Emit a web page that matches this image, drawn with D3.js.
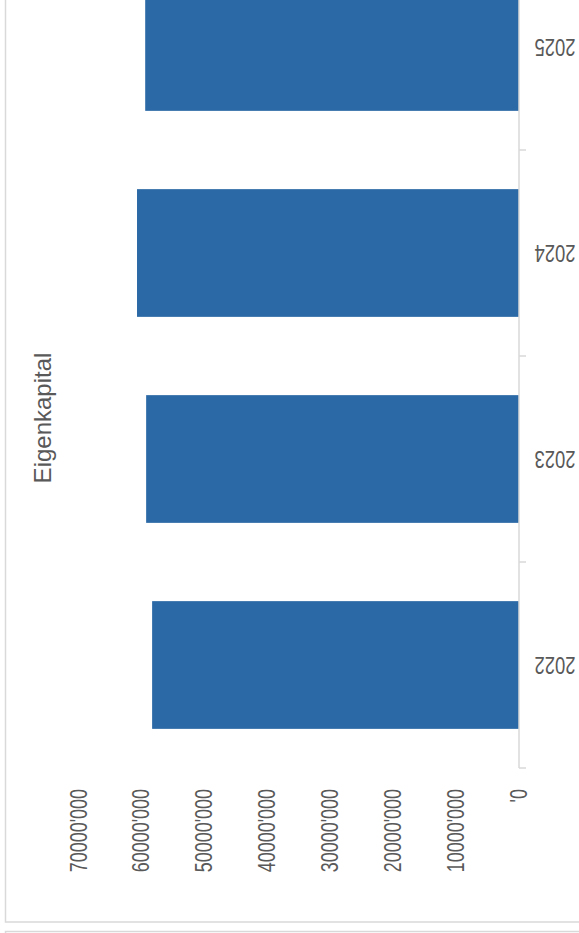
<!DOCTYPE html>
<html>
<head>
<meta charset="utf-8">
<script src="https://cdn.jsdelivr.net/npm/d3@7"></script>
<style>
  html, body { margin: 0; padding: 0; background: #fff; }
  svg { display: block; font-family: "Liberation Sans", Arial, sans-serif; }
</style>
</head>
<body>
<div id="output"></div>
<script>
(function () {

"use strict";

var title = "Eigenkapital"
var years = [ "2022", "2023", "2024", "2025" ]
var equity = [ 58300000, 59250000, 60700000, 59400000 ]
var valueTicks = [ 0, 10000000, 20000000, 30000000, 40000000, 50000000, 60000000, 70000000 ]

var width = 579
  , height = 933
  , textColor = "#595959"
  , lineColor = "#d9d9d9"
  , barColor = "#2a69a5"

// swiss style label, e.g. 70000'000 and '0
function fmt(d)
{
  var rest = ("00" + (d % 1000)).slice(-3)
  return d === 0 ? "'0" : Math.floor(d / 1000) + "'" + rest
}

var svg = d3.select("#output").append("svg").attr("width", width).attr("height", height)

// chart frame plus the edge of the next one below it
svg.append("rect")
  .attr("x", 5.5).attr("y", -10)
  .attr("width", 590).attr("height", 932)
  .style("fill", "none").style("stroke", lineColor).style("stroke-width", 1.5)
svg.append("path")
  .attr("d", "M5.5,940V931.5H590")
  .style("fill", "none").style("stroke", lineColor).style("stroke-width", 1.5)

// the chart is turned a quarter to the left: values run right to left
var x = d3.scaleLinear().domain([0, 70000000]).range([519, 78.5])
var y = d3.scaleBand().domain(years).range([768, -56]).paddingInner(0.38).paddingOuter(0.19)

svg.append("g").selectAll("rect")
  .data(years)
  .enter().append("rect")
  .attr("x", function (d, i) { return x(equity[i]) })
  .attr("y", function (d) { return y(d) })
  .attr("width", function (d, i) { return x(0) - x(equity[i]) })
  .attr("height", y.bandwidth())
  .style("fill", barColor)

// category axis (right side)
var catAxis = svg.append("g")
catAxis.append("line")
  .attr("x1", x(0)).attr("x2", x(0))
  .attr("y1", -60).attr("y2", y.range()[0])
  .style("stroke", lineColor).style("stroke-width", 1.5)

var bounds = years.map(function (d) { return y(d) - y.step() * y.paddingInner() / 2 })
bounds.push(y.range()[0])
catAxis.selectAll("line.tick")
  .data(bounds)
  .enter().append("line")
  .attr("class", "tick")
  .attr("x1", x(0)).attr("x2", x(0) + 7)
  .attr("y1", function (d) { return d }).attr("y2", function (d) { return d })
  .style("stroke", lineColor).style("stroke-width", 1.5)

catAxis.selectAll("text")
  .data(years)
  .enter().append("text")
  .attr("transform", function (d) {
    return "translate(" + (x(0) + 36) + "," + (y(d) + y.bandwidth() / 2) + ") rotate(180) scale(0.8,1)"
  })
  .attr("text-anchor", "middle")
  .attr("dy", "0.35em")
  .style("font-size", "23px")
  .style("fill", textColor)
  .text(function (d) { return d })

// value labels (bottom), no axis line
svg.append("g").selectAll("text")
  .data(valueTicks)
  .enter().append("text")
  .attr("transform", function (d) { return "translate(" + x(d) + ",789) rotate(-90) scale(0.78,1)" })
  .attr("text-anchor", "end")
  .attr("dy", "0.35em")
  .style("font-size", "23px")
  .style("fill", textColor)
  .text(fmt)

svg.append("text")
  .attr("transform", "translate(42.5,418) rotate(-90)")
  .attr("text-anchor", "middle")
  .attr("dy", "0.35em")
  .style("font-size", "24px")
  .style("fill", textColor)
  .text(title)

}())
</script>
</body>
</html>
